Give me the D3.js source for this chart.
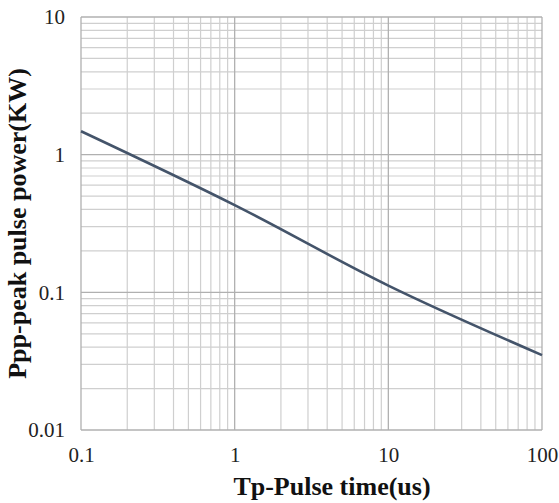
<!DOCTYPE html>
<html>
<head>
<meta charset="utf-8">
<script src="https://cdn.jsdelivr.net/npm/d3@7"></script>
<style>
    body { margin: 0; background: #fff; }
    svg { display: block; }
</style>
</head>
<body>
<div id="chart"></div>
<script>
// Values
const pulseTimes = [0.1, 1, 10, 100];          // us
const peakPower = [1.48, 0.43, 0.112, 0.035];  // KW
const xTicks = [0.1, 1, 10, 100];
const yTicks = [0.01, 0.1, 1, 10];

const width = 559, height = 503;
const margin = {top: 17, right: 17, bottom: 73, left: 81};

const svg = d3.select("#chart")
    .append("svg")
    .attr("width", width)
    .attr("height", height);

const x = d3.scaleLog()
    .domain([0.1, 100])
    .range([margin.left, width - margin.right]);

const y = d3.scaleLog()
    .domain([0.01, 10])
    .range([height - margin.bottom, margin.top]);

// minor grid: 2..9 inside every decade
const minorX = [];
xTicks.slice(0, -1).forEach(t => d3.range(2, 10).forEach(k => minorX.push(t * k)));
const minorY = [];
yTicks.slice(0, -1).forEach(t => d3.range(2, 10).forEach(k => minorY.push(t * k)));

const grid = svg.append("g");

grid.selectAll(".vminor")
    .data(minorX)
    .join("line")
    .attr("x1", d => x(d)).attr("x2", d => x(d))
    .attr("y1", y(0.01)).attr("y2", y(10))
    .attr("stroke", "#cfcfcf")
    .attr("stroke-width", 1.2);

grid.selectAll(".hminor")
    .data(minorY)
    .join("line")
    .attr("y1", d => y(d)).attr("y2", d => y(d))
    .attr("x1", x(0.1)).attr("x2", x(100))
    .attr("stroke", "#cfcfcf")
    .attr("stroke-width", 1.2);

grid.selectAll(".vmajor")
    .data(xTicks)
    .join("line")
    .attr("x1", d => x(d)).attr("x2", d => x(d))
    .attr("y1", y(0.01)).attr("y2", y(10))
    .attr("stroke", "#b0b0b0")
    .attr("stroke-width", 1.3);

grid.selectAll(".hmajor")
    .data(yTicks)
    .join("line")
    .attr("y1", d => y(d)).attr("y2", d => y(d))
    .attr("x1", x(0.1)).attr("x2", x(100))
    .attr("stroke", "#b0b0b0")
    .attr("stroke-width", 1.3);

// curve (smoothed like the spreadsheet chart)
const line = d3.line()
    .x((d, i) => x(pulseTimes[i]))
    .y(d => y(d))
    .curve(d3.curveMonotoneX);

svg.append("path")
    .datum(peakPower)
    .attr("d", line)
    .attr("fill", "none")
    .attr("stroke", "#44546a")
    .attr("stroke-width", 2.6);

// axes (labels only)
const xAxis = g => g
    .attr("transform", `translate(0,${height - margin.bottom})`)
    .call(d3.axisBottom(x).tickValues(xTicks).tickFormat(d => String(d)).tickSize(0).tickPadding(17))
    .call(g => g.select(".domain").remove());

const yAxis = g => g
    .attr("transform", `translate(${margin.left},0)`)
    .call(d3.axisLeft(y).tickValues(yTicks).tickFormat(d => String(d)).tickSize(0).tickPadding(16))
    .call(g => g.select(".domain").remove());

svg.append("g").call(xAxis);
svg.append("g").call(yAxis);

svg.selectAll(".tick text")
    .attr("font-family", "'Liberation Serif', serif")
    .attr("font-size", 21)
    .attr("fill", "#222");

svg.append("text")
    .attr("x", 332)
    .attr("y", 495)
    .attr("text-anchor", "middle")
    .attr("font-family", "'Liberation Serif', serif")
    .attr("font-weight", "bold")
    .attr("font-size", 26)
    .attr("fill", "#111")
    .text("Tp-Pulse time(us)");

svg.append("text")
    .attr("transform", `translate(26,${(margin.top + height - margin.bottom) / 2}) rotate(-90)`)
    .attr("text-anchor", "middle")
    .attr("font-family", "'Liberation Serif', serif")
    .attr("font-weight", "bold")
    .attr("font-size", 26)
    .attr("fill", "#111")
    .text("Ppp-peak pulse power(KW)");
</script>
</body>
</html>
